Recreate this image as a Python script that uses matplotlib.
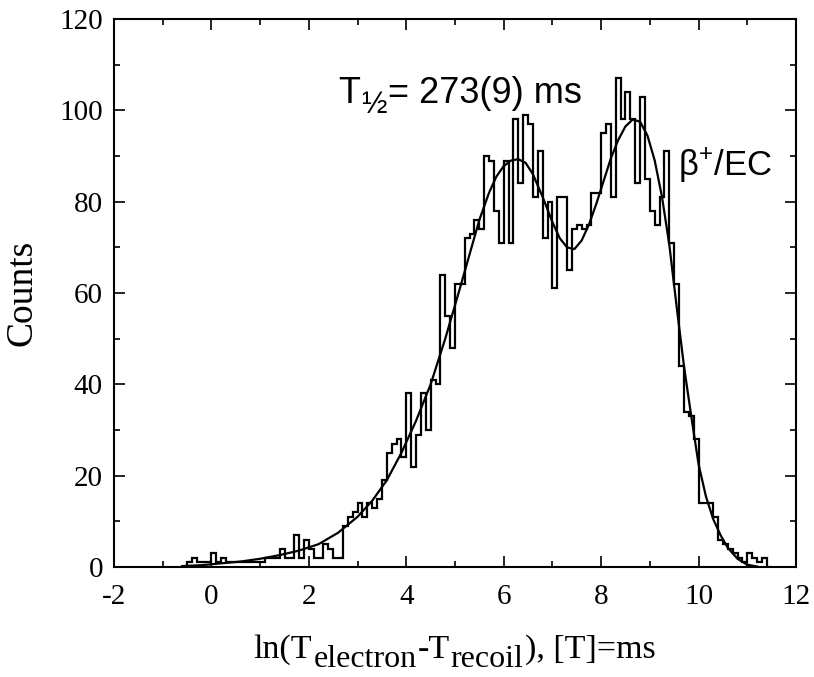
import matplotlib
matplotlib.use('Agg')
import matplotlib.pyplot as plt
from matplotlib.ticker import MultipleLocator
import numpy as np

plt.rcParams['mathtext.default'] = 'regular'
plt.rcParams['axes.unicode_minus'] = False

# histogramm: bins of 0.1, first left edge at -0.6
bin_start = -0.6
bin_width = 0.1
counts = [
    0, 1, 2, 1, 1, 1, 3, 1, 2, 1,          # -0.6 .. 0.3
    1, 1, 1, 1, 1, 1, 1, 2, 2, 2,          # 0.4 .. 1.3
    4, 2, 2, 7, 2, 6, 4, 2, 2, 5,          # 1.4 .. 2.3
    4, 2, 2, 9, 11, 12, 14, 11, 14, 13,    # 2.4 .. 3.3
    15, 19, 25, 27, 28, 24, 38, 22, 29, 38,  # 3.4 .. 4.3
    30, 41, 40, 64, 55, 48, 62, 62, 72, 73,  # 4.4 .. 5.3
    76, 74, 90, 89, 78, 71, 89, 71, 98, 84,  # 5.4 .. 6.3
    99, 97, 81, 91, 72, 80, 61, 81, 81, 65,  # 6.4 .. 7.3
    74, 75, 74, 75, 82, 82, 95, 97, 81, 107,  # 7.4 .. 8.3
    98, 104, 98, 84, 103, 85, 78, 75, 81, 91,  # 8.4 .. 9.3
    71, 62, 44, 34, 33, 28, 14, 14, 14, 11,  # 9.4 .. 10.3
    6, 5, 4, 3, 2, 1, 3, 2, 1, 2,          # 10.4 .. 11.3
    0,                                     # 11.4
]

# fit curve
fit_x = [-0.6, -0.2, 0.2, 0.6, 1.0, 1.4, 1.8, 2.2, 2.6, 3.0, 3.3, 3.6, 3.9,
         4.2, 4.5, 4.8, 5.1, 5.3, 5.5, 5.7, 5.85, 6.0, 6.15, 6.3, 6.45, 6.6,
         6.8, 7.0, 7.15, 7.3, 7.45, 7.6, 7.75, 7.9, 8.05, 8.2, 8.35, 8.5,
         8.65, 8.8, 8.95, 9.1, 9.25, 9.4, 9.55, 9.7, 9.85, 10.0, 10.15,
         10.3, 10.45, 10.6, 10.8, 11.0, 11.2]
fit_y = [0.2, 0.4, 0.8, 1.2, 1.8, 2.6, 3.6, 5.0, 7.5, 11, 14.5, 19, 25,
         32, 40, 50, 61, 68.5, 76, 82, 85.5, 87.8, 89, 89.3, 88.5, 86,
         81, 75.5, 72, 70, 69.6, 71.5, 75, 79.5, 84.5, 89.5, 93.5, 96.5,
         98, 97.5, 94.5, 89, 81, 70.5, 57, 44, 33, 22.5, 15.5,
         10.5, 7, 4.2, 1.8, 0.5, 0.1]

x_ticks = [-2, 0, 2, 4, 6, 8, 10, 12]
y_ticks = [0, 20, 40, 60, 80, 100, 120]

serif = 'Liberation Serif'
sans = 'Liberation Sans'
W, H = 814, 677

fig = plt.figure(figsize=(W / 100, H / 100), dpi=100)
ax = fig.add_axes([114 / W, 1 - 567 / H, (796 - 114) / W, (567 - 19) / H])

edges = bin_start + bin_width * np.arange(len(counts) + 1)
ax.stairs(counts, edges, color='black', linewidth=1.6)
ax.plot(fit_x, fit_y, color='black', linewidth=1.6, solid_joinstyle='round')

ax.set_xlim(-2, 12)
ax.set_ylim(0, 120)
ax.set_xticks(x_ticks)
ax.set_yticks(y_ticks)
ax.xaxis.set_minor_locator(MultipleLocator(1))
ax.yaxis.set_minor_locator(MultipleLocator(10))
ax.tick_params(which='both', direction='in', top=True, right=True, width=1.2)
ax.tick_params(which='major', length=8)
ax.tick_params(which='minor', length=4)
ax.tick_params(axis='x', which='major', pad=12)
ax.tick_params(axis='y', which='major', pad=8)
for lab in ax.get_xticklabels() + ax.get_yticklabels():
    lab.set_fontfamily(serif)
    lab.set_fontsize(21)
for sp in ax.spines.values():
    sp.set_linewidth(1.5)

ax.set_ylabel('Counts', fontsize=27, family=serif, labelpad=14)

renderer = fig.canvas.get_renderer()


def piece_text(parts, x_left, base_px, family, center=False):
    # parts: (text, fontsize, baseline shift in px); positions in figure pixels
    placed = []
    x_px = 0.0
    for txt, size, shift in parts:
        t = fig.text(0, 1 - (base_px + shift) / H, txt, family=family,
                     fontsize=size, va='baseline', ha='left')
        placed.append((t, x_px))
        x_px += t.get_window_extent(renderer).width + 1
    if center:
        x_left = x_left - x_px / 2
    for t, off in placed:
        t.set_x((x_left + off) / W)


piece_text([('T', 26, 0), ('½', 22, 10), ('= 273(9) ms', 26, 0)],
           338, 103, sans)
ax.text(9.58, 85.7, 'β$^{+}$/EC', family=sans, fontsize=25, va='baseline')

# x label: subscripts are almost full-size and lowered
piece_text([('ln(T', 24.5, 0), ('electron', 23, 9), ('-T', 24.5, 0),
            ('recoil', 23, 9), ('), [T]=ms', 24.5, 0)],
           (114 + 796) / 2, 658, serif, center=True)

fig.savefig('out.png', dpi=100)
